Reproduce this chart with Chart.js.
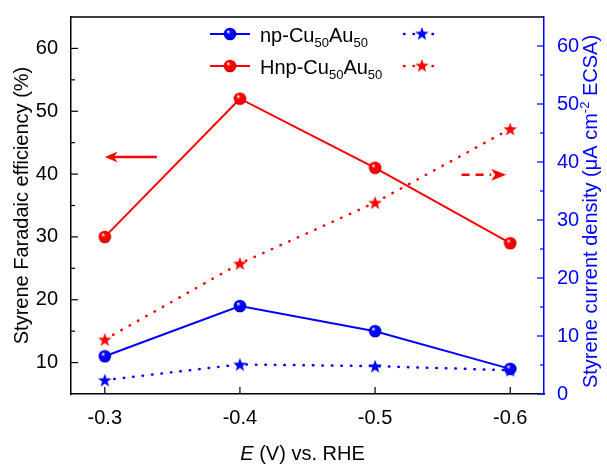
<!DOCTYPE html>
<html>
<head>
<meta charset="utf-8">
<script src="https://cdn.jsdelivr.net/npm/chart.js@4"></script>
<style>
  html, body { margin: 0; padding: 0; background: #fff; }
  canvas { display: block; }
</style>
</head>
<body>
<canvas id="chart" width="607" height="466"></canvas>
<script>
// potentials (V vs. RHE)
const potentials = [-0.3, -0.4, -0.5, -0.6];
// Faradaic efficiency (%)
const feNp = [11, 19, 15, 9];
const feHnp = [30, 52, 41, 29];
// styrene current density (uA cm-2 ECSA)
const currentNp = [2.4, 5.1, 4.8, 4.1];
const currentHnp = [9.4, 22.5, 33.0, 45.7];

const feTicks = [10, 20, 30, 40, 50, 60];
const feMinorTicks = [15, 25, 35, 45, 55];
const currentTicks = [0, 10, 20, 30, 40, 50, 60];
const currentMinorTicks = [5, 15, 25, 35, 45, 55];

const BLUE = '#0000ff';
const RED = '#ff0000';
const FONT = "'Liberation Sans', Arial, sans-serif";
const DOTS = [0.5, 9];

// shaded sphere marker
function makeBall(color, dark) {
  const c = document.createElement('canvas');
  c.width = 14; c.height = 14;
  const g = c.getContext('2d');
  const grad = g.createRadialGradient(5, 4.5, 0.3, 7, 7, 6.5);
  grad.addColorStop(0, '#ffffff');
  grad.addColorStop(0.3, color);
  grad.addColorStop(0.8, color);
  grad.addColorStop(1, dark);
  g.fillStyle = grad;
  g.beginPath();
  g.arc(7, 7, 6.3, 0, Math.PI * 2);
  g.fill();
  return c;
}

// filled five point star marker
function makeStar(color) {
  const c = document.createElement('canvas');
  c.width = 16; c.height = 16;
  const g = c.getContext('2d');
  g.fillStyle = color;
  g.beginPath();
  for (let i = 0; i < 10; i++) {
    const r = i % 2 ? 2.9 : 7.2;
    const a = -Math.PI / 2 + i * Math.PI / 5;
    const px = 8 + r * Math.cos(a), py = 8.6 + r * Math.sin(a);
    i ? g.lineTo(px, py) : g.moveTo(px, py);
  }
  g.closePath();
  g.fill();
  return c;
}

const ballBlue = makeBall(BLUE, '#00008a');
const ballRed = makeBall(RED, '#a00000');
const starBlue = makeStar(BLUE);
const starRed = makeStar(RED);

const points = ys => potentials.map((x, i) => ({ x, y: ys[i] }));

// text with sub/superscripts: parts = [[text, size, dy, italic]]
function richText(ctx, parts, x, y, align) {
  let w = 0;
  parts.forEach(p => {
    ctx.font = (p[3] ? 'italic ' : '') + p[1] + 'px ' + FONT;
    w += ctx.measureText(p[0]).width;
  });
  let cx = align === 'center' ? x - w / 2 : x;
  ctx.textAlign = 'left';
  ctx.textBaseline = 'alphabetic';
  parts.forEach(p => {
    ctx.font = (p[3] ? 'italic ' : '') + p[1] + 'px ' + FONT;
    ctx.fillText(p[0], cx, y + p[2]);
    cx += ctx.measureText(p[0]).width;
  });
}

function line(ctx, x1, y1, x2, y2) {
  ctx.beginPath();
  ctx.moveTo(x1, y1);
  ctx.lineTo(x2, y2);
  ctx.stroke();
}

function arrowHead(ctx, tipX, y, dir, len, half) {
  ctx.beginPath();
  ctx.moveTo(tipX, y);
  ctx.lineTo(tipX - dir * len, y - half);
  ctx.lineTo(tipX - dir * (len - 4), y);
  ctx.lineTo(tipX - dir * len, y + half);
  ctx.closePath();
  ctx.fill();
}

const decor = {
  id: 'decor',
  afterDraw(chart) {
    const { ctx, chartArea: a, scales } = chart;
    const { x, y, y1 } = scales;
    ctx.save();

    // top frame line
    ctx.strokeStyle = '#000';
    ctx.lineWidth = 1.5;
    line(ctx, a.left, a.top, a.right, a.top);

    // inward tick marks
    ctx.lineWidth = 1.2;
    feTicks.forEach(v => { const p = y.getPixelForValue(v); line(ctx, a.left, p, a.left + 7, p); });
    feMinorTicks.forEach(v => { const p = y.getPixelForValue(v); line(ctx, a.left, p, a.left + 4, p); });
    potentials.forEach(v => { const p = x.getPixelForValue(v); line(ctx, p, a.bottom, p, a.bottom - 7); });
    ctx.strokeStyle = BLUE;
    currentTicks.forEach(v => { const p = y1.getPixelForValue(v); line(ctx, a.right, p, a.right - 7, p); });
    currentMinorTicks.forEach(v => { const p = y1.getPixelForValue(v); line(ctx, a.right, p, a.right - 4, p); });

    // axis titles
    ctx.fillStyle = '#000';
    richText(ctx, [['E', 20, 0, true], [' (V) vs. RHE', 20, 0]], (a.left + a.right) / 2 - 5, 460, 'center');
    ctx.save();
    ctx.translate(28, (a.top + a.bottom) / 2);
    ctx.rotate(-Math.PI / 2);
    richText(ctx, [['Styrene Faradaic efficiency (%)', 20, 0]], 0, 0, 'center');
    ctx.restore();
    ctx.save();
    ctx.fillStyle = BLUE;
    ctx.translate(597, (a.top + a.bottom) / 2 + 6);
    ctx.rotate(-Math.PI / 2);
    richText(ctx, [['Styrene current density (\u03bcA cm', 20, 0], ['-2', 13, -8], [' ECSA)', 20, 0]], 0, 0, 'center');
    ctx.restore();

    // arrows pointing at the matching axis
    ctx.strokeStyle = RED;
    ctx.fillStyle = RED;
    ctx.lineWidth = 2.5;
    const ly = y.getPixelForValue(42.7);
    const lTip = x.getPixelForValue(-0.3);
    line(ctx, x.getPixelForValue(-0.3385), ly, lTip + 8, ly);
    arrowHead(ctx, lTip, ly, -1, 13, 5.5);
    const ry = y1.getPixelForValue(37.8);
    const rTip = x.getPixelForValue(-0.597);
    ctx.setLineDash([8, 6]);
    line(ctx, x.getPixelForValue(-0.564), ry, rTip - 15, ry);
    ctx.setLineDash([]);
    arrowHead(ctx, rTip, ry, 1, 15, 6);

    // legend
    const rows = [
      { color: BLUE, ball: ballBlue, star: starBlue, name: 'np-Cu', yc: 34 },
      { color: RED, ball: ballRed, star: starRed, name: 'Hnp-Cu', yc: 66 }
    ];
    rows.forEach(r => {
      ctx.strokeStyle = r.color;
      ctx.lineWidth = 2;
      line(ctx, 210, r.yc, 250, r.yc);
      ctx.drawImage(r.ball, 230 - 7, r.yc - 7);
      ctx.lineWidth = 2.5;
      ctx.lineCap = 'round';
      ctx.setLineDash(DOTS);
      line(ctx, 404, r.yc, 440, r.yc);
      ctx.setLineDash([]);
      ctx.lineCap = 'butt';
      ctx.drawImage(r.star, 422 - 8, r.yc - 8.6);
      ctx.fillStyle = '#000';
      richText(ctx, [[r.name, 20, 0], ['50', 13, 5], ['Au', 20, 0], ['50', 13, 5]], 260, r.yc + 8, 'left');
    });

    ctx.restore();
  }
};

const solid = (label, data, color, ball, axis) => ({
  label, data, yAxisID: axis, borderColor: color, backgroundColor: color,
  borderWidth: 2, pointStyle: ball, pointRadius: 7, order: 1
});
const dotted = (label, data, color, star, axis) => ({
  label, data, yAxisID: axis, borderColor: color, backgroundColor: color,
  borderWidth: 2.5, borderDash: DOTS, borderCapStyle: 'round',
  pointStyle: star, pointRadius: 8, order: 2
});

new Chart(document.getElementById('chart'), {
  type: 'line',
  data: {
    datasets: [
      solid('np-Cu50Au50 FE', points(feNp), BLUE, ballBlue, 'y'),
      solid('Hnp-Cu50Au50 FE', points(feHnp), RED, ballRed, 'y'),
      dotted('np-Cu50Au50 j', points(currentNp), BLUE, starBlue, 'y1'),
      dotted('Hnp-Cu50Au50 j', points(currentHnp), RED, starRed, 'y1')
    ]
  },
  options: {
    responsive: false,
    animation: false,
    events: [],
    layout: { padding: { top: 12, left: 0, right: 0, bottom: 0 } },
    plugins: { legend: { display: false }, tooltip: { enabled: false } },
    scales: {
      x: {
        type: 'linear', min: -0.625, max: -0.275, reverse: true,
        afterBuildTicks: s => { s.ticks = potentials.map(v => ({ value: v })); },
        afterFit: s => { s.height = 72; },
        grid: { display: false },
        border: { color: '#000', width: 1.5 },
        ticks: { color: '#000', padding: 4, maxRotation: 0, font: { family: FONT, size: 20 }, callback: v => v.toFixed(1) }
      },
      y: {
        position: 'left', min: 5, max: 65,
        afterBuildTicks: s => { s.ticks = feTicks.map(v => ({ value: v })); },
        afterFit: s => { s.width = 71; },
        grid: { display: false },
        border: { color: '#000', width: 1.5 },
        ticks: { color: '#000', padding: 5, font: { family: FONT, size: 20 } }
      },
      y1: {
        position: 'right', min: 0, max: 65,
        afterBuildTicks: s => { s.ticks = currentTicks.map(v => ({ value: v })); },
        afterFit: s => { s.width = 63; },
        grid: { display: false },
        border: { color: BLUE, width: 1.5 },
        ticks: { color: BLUE, padding: 5, font: { family: FONT, size: 20 } }
      }
    }
  },
  plugins: [decor]
});
</script>
</body>
</html>
